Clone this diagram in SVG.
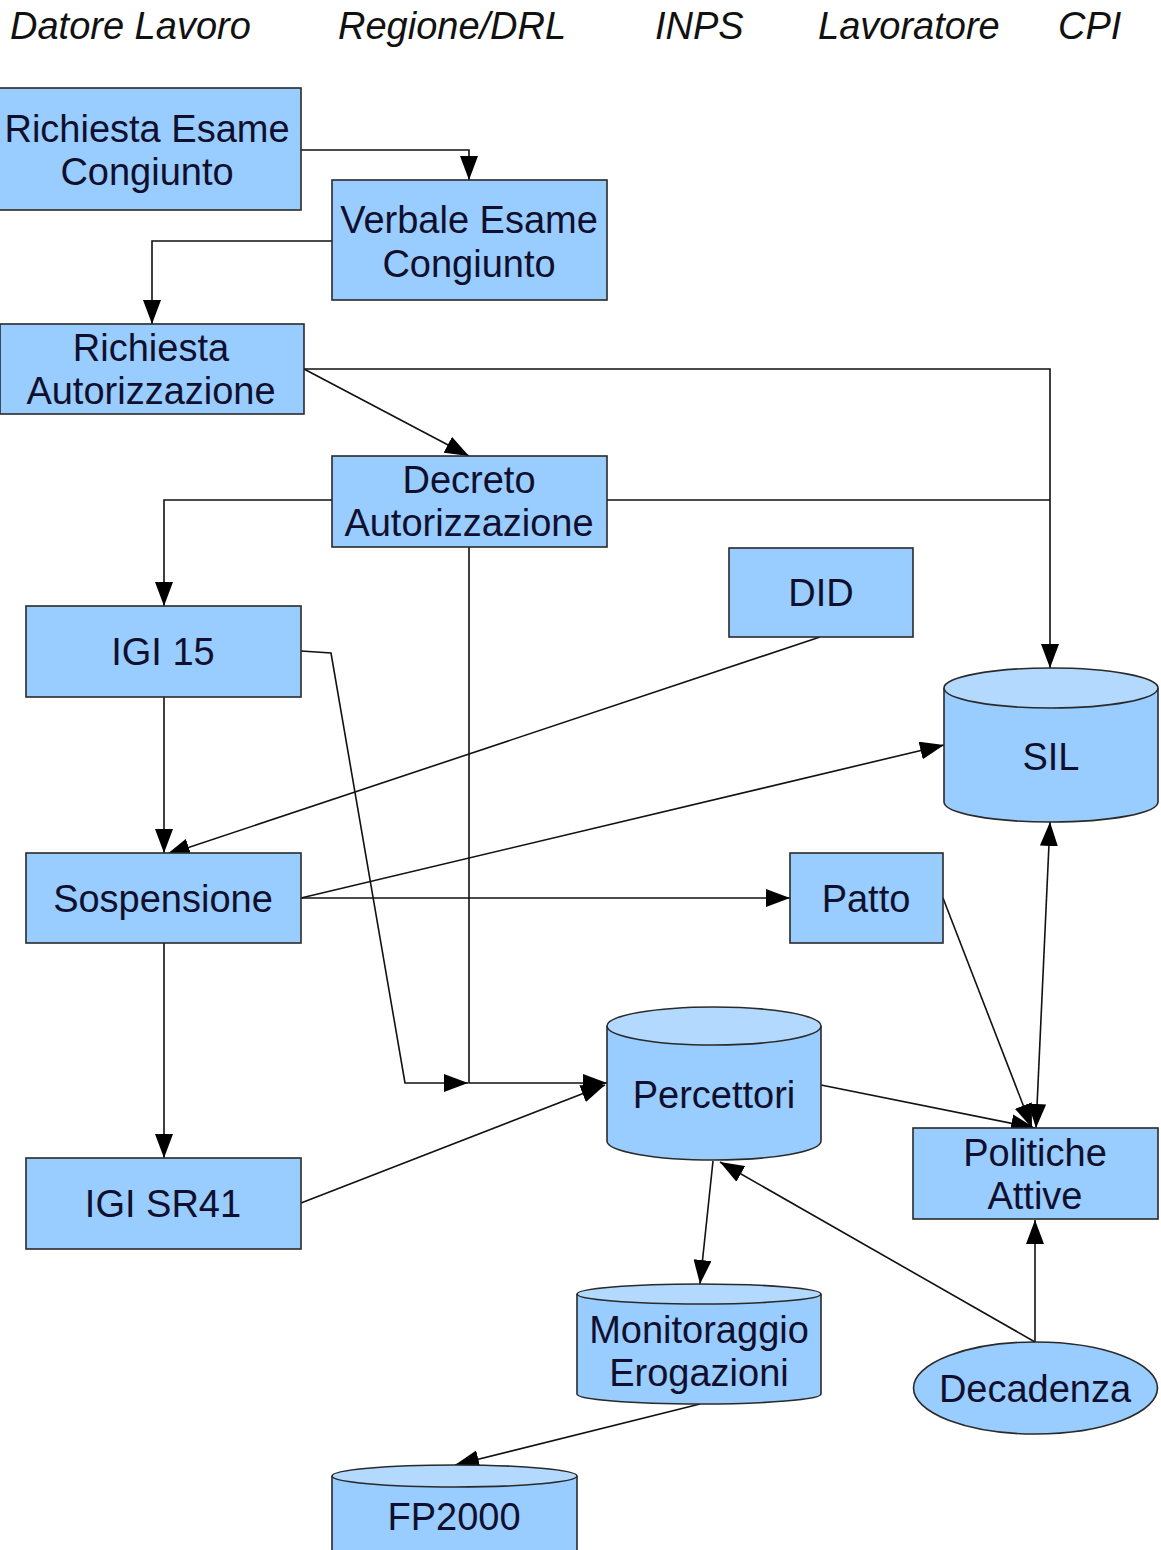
<svg xmlns="http://www.w3.org/2000/svg" width="1161" height="1550" viewBox="0 0 1161 1550">
<style>
.box{fill:#99ccff;stroke:#2a2a2a;stroke-width:1.6}
.top{fill:#b3d9ff;stroke:#2a2a2a;stroke-width:1.6}
.t{font-family:"Liberation Sans",Arial,sans-serif;font-size:38px;fill:#10102e;text-anchor:middle}
.h{font-family:"Liberation Sans",Arial,sans-serif;font-size:38px;font-style:italic;fill:#111}
.c{fill:none;stroke:#111;stroke-width:1.6}
</style>
<defs>
<marker id="a" viewBox="0 0 24 18" refX="24" refY="9" markerWidth="24" markerHeight="18" markerUnits="userSpaceOnUse" orient="auto-start-reverse">
<path d="M0,0 L24,9 L0,18 z" fill="#000"/>
</marker>
</defs>
<rect width="1161" height="1550" fill="#fff"/>
<g id="headers">
<text class="h" x="10" y="39">Datore Lavoro</text>
<text class="h" x="338" y="39">Regione/DRL</text>
<text class="h" x="655" y="39">INPS</text>
<text class="h" x="818" y="39">Lavoratore</text>
<text class="h" x="1058" y="39">CPI</text>
</g>
<g id="connectors">
<path class="c" d="M301,150 H469 V180" marker-end="url(#a)"/>
<path class="c" d="M332,241 H152 V324" marker-end="url(#a)"/>
<path class="c" d="M304,369 H1050 V668" marker-end="url(#a)"/>
<path class="c" d="M304,369 L469,456" marker-end="url(#a)"/>
<path class="c" d="M607,500 H1050"/>
<path class="c" d="M332,500 H164 V606" marker-end="url(#a)"/>
<path class="c" d="M469,547 V1083 H607" marker-end="url(#a)"/>
<path class="c" d="M301,651 L331,653 L405,1083 H468" marker-end="url(#a)"/>
<path class="c" d="M164,697 V853" marker-end="url(#a)"/>
<path class="c" d="M820,637 L166,855" marker-end="url(#a)"/>
<path class="c" d="M301,898 L944,745" marker-end="url(#a)"/>
<path class="c" d="M301,898 H790" marker-end="url(#a)"/>
<path class="c" d="M164,943 V1158" marker-end="url(#a)"/>
<path class="c" d="M301,1203 L605,1085" marker-end="url(#a)"/>
<path class="c" d="M821,1085 L1035,1128" marker-end="url(#a)"/>
<path class="c" d="M943,898 L1032,1128" marker-end="url(#a)"/>
<path class="c" d="M1050,822 L1036,1128" marker-start="url(#a)" marker-end="url(#a)"/>
<path class="c" d="M713,1161 L700,1284" marker-end="url(#a)"/>
<path class="c" d="M1035,1342 L720,1162" marker-end="url(#a)"/>
<path class="c" d="M1035,1342 V1220" marker-end="url(#a)"/>
<path class="c" d="M700,1404 L455,1465" marker-end="url(#a)"/>
</g>
<g id="richiesta-esame">
<rect class="box" x="-1" y="88" width="302" height="122"/>
<text class="t" x="147" y="142">Richiesta Esame</text>
<text class="t" x="147" y="185">Congiunto</text>
</g>
<g id="verbale-esame">
<rect class="box" x="332" y="180" width="275" height="120"/>
<text class="t" x="469" y="233">Verbale Esame</text>
<text class="t" x="469" y="277">Congiunto</text>
</g>
<g id="richiesta-autorizzazione">
<rect class="box" x="0" y="324" width="304" height="90"/>
<text class="t" x="151" y="361">Richiesta</text>
<text class="t" x="151" y="404">Autorizzazione</text>
</g>
<g id="decreto-autorizzazione">
<rect class="box" x="332" y="456" width="275" height="91"/>
<text class="t" x="469" y="493">Decreto</text>
<text class="t" x="469" y="536">Autorizzazione</text>
</g>
<g id="did">
<rect class="box" x="729" y="548" width="184" height="89"/>
<text class="t" x="821" y="606">DID</text>
</g>
<g id="igi15">
<rect class="box" x="26" y="606" width="275" height="91"/>
<text class="t" x="163" y="665">IGI 15</text>
</g>
<g id="sil">
<path class="box" d="M944,688 V802 A107,20 0 0 0 1158,802 V688"/>
<ellipse class="top" cx="1051" cy="688" rx="107" ry="20"/>
<text class="t" x="1051" y="770">SIL</text>
</g>
<g id="sospensione">
<rect class="box" x="26" y="853" width="275" height="90"/>
<text class="t" x="163" y="912">Sospensione</text>
</g>
<g id="patto">
<rect class="box" x="790" y="853" width="153" height="90"/>
<text class="t" x="866" y="912">Patto</text>
</g>
<g id="percettori">
<path class="box" d="M607,1026 V1141 A107,19 0 0 0 821,1141 V1026"/>
<ellipse class="top" cx="714" cy="1026" rx="107" ry="19"/>
<text class="t" x="714" y="1108">Percettori</text>
</g>
<g id="politiche-attive">
<rect class="box" x="913" y="1128" width="245" height="91"/>
<text class="t" x="1035" y="1166">Politiche</text>
<text class="t" x="1035" y="1209">Attive</text>
</g>
<g id="igi-sr41">
<rect class="box" x="26" y="1158" width="275" height="91"/>
<text class="t" x="163" y="1217">IGI SR41</text>
</g>
<g id="monitoraggio">
<path class="box" d="M577,1294 V1394 A122,10 0 0 0 821,1394 V1294"/>
<ellipse class="top" cx="699" cy="1294" rx="122" ry="10"/>
<text class="t" x="699" y="1343">Monitoraggio</text>
<text class="t" x="699" y="1386">Erogazioni</text>
</g>
<g id="decadenza">
<ellipse class="box" cx="1035.5" cy="1388" rx="122" ry="46"/>
<text class="t" x="1035" y="1402">Decadenza</text>
</g>
<g id="fp2000">
<path class="box" d="M332,1476 V1560 H577 V1476"/>
<ellipse class="top" cx="454.5" cy="1476" rx="122.5" ry="11"/>
<text class="t" x="454" y="1530">FP2000</text>
</g>
</svg>
